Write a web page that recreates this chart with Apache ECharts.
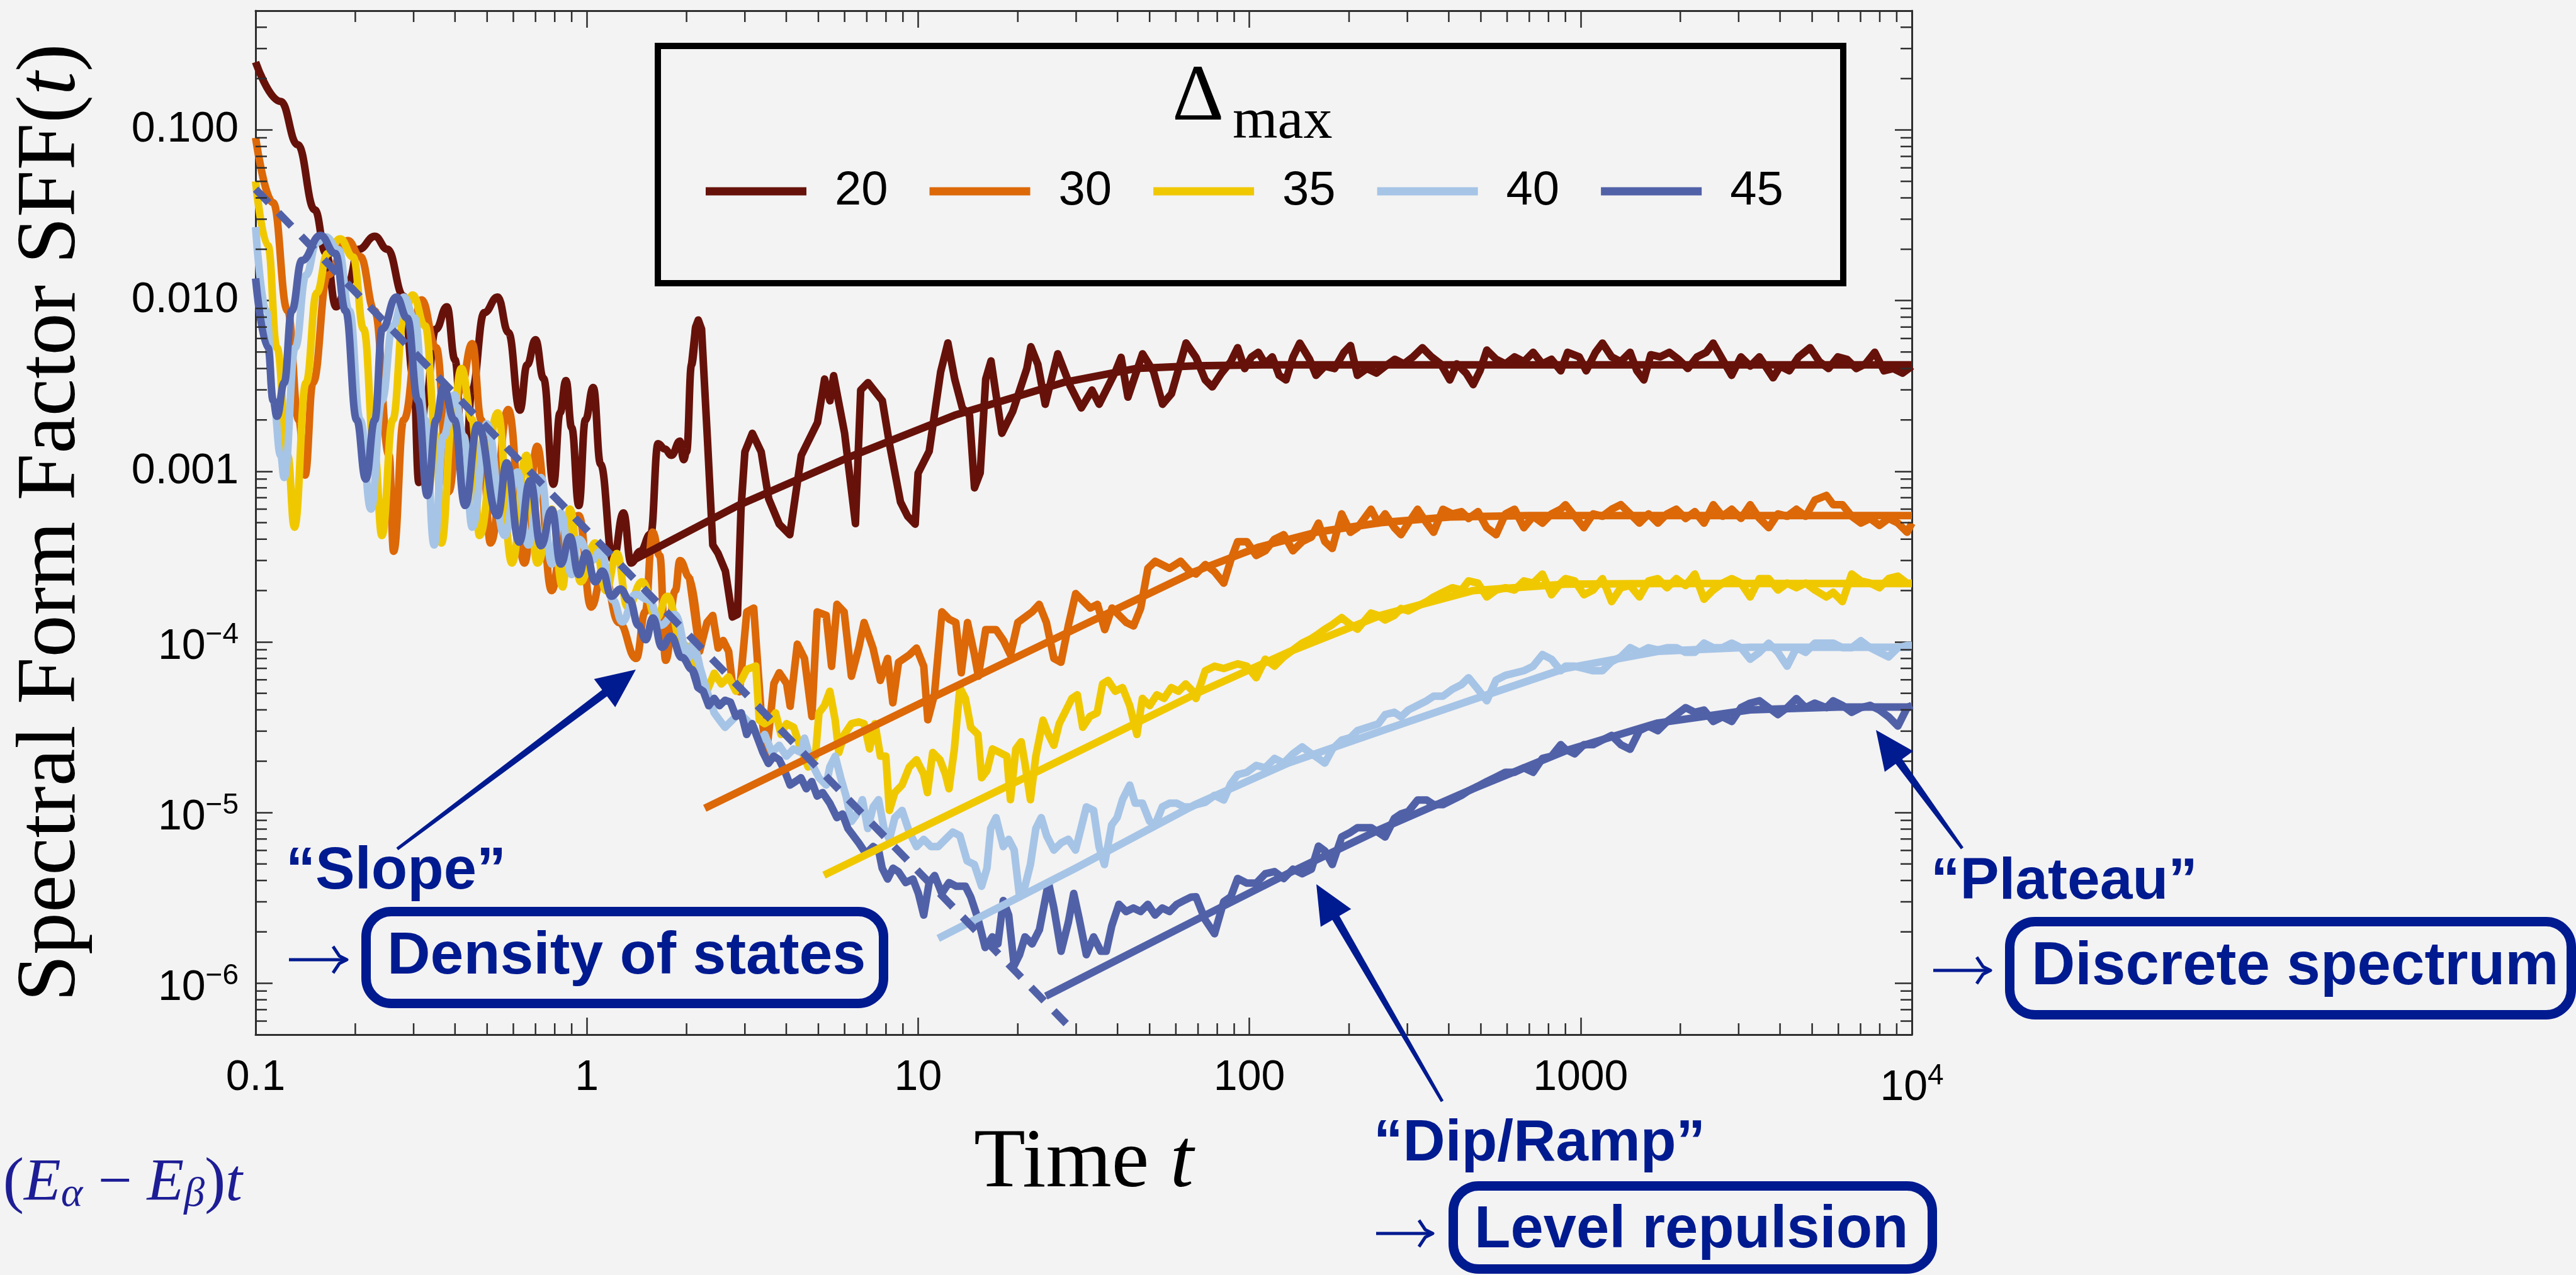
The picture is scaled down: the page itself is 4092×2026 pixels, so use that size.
<!DOCTYPE html>
<html>
<head>
<meta charset="utf-8">
<title>Spectral Form Factor</title>
<script src="https://cdn.jsdelivr.net/npm/echarts@6/dist/echarts.min.js"></script>
<style>
  html, body { margin: 0; padding: 0; background: #f3f3f3; }
  #chart { width: 4092px; height: 2026px; }
</style>
</head>
<body>
<div id="chart"></div>
<script>
// ---------- data: SFF(t) for several cutoffs Δmax (time t, value) ----------
const sff20 = [[0.1,0.25],[0.119,0.147],[0.134,0.082],[0.151,0.034],[0.163,0.019],[0.175,0.0092],[0.19,0.0125],[0.205,0.02],[0.229,0.0238],[0.25,0.02],[0.28,0.0106],[0.3,0.0035],[0.311,8.6e-4],[0.325,0.0025],[0.35,0.0068],[0.378,0.0092],[0.4,0.0045],[0.426,6.8e-4],[0.45,0.003],[0.49,0.0085],[0.538,0.0105],[0.58,0.0065],[0.628,0.00228],[0.66,0.0042],[0.7,0.0059],[0.74,0.0035],[0.793,8.4e-4],[0.83,0.0022],[0.865,0.0034],[0.9,0.0018],[0.946,6.3e-4],[0.99,0.002],[1.046,0.0031],[1.1,0.0011],[1.2,3.0e-4],[1.29,5.7e-4],[1.36,2.9e-4],[1.45,3.4e-4],[1.56,4.3e-4],[1.64,0.00145],[1.72,0.00135],[1.8,0.00124],[1.91,0.0015],[1.96,0.00117],[2.0,0.0013],[2.07,0.0042],[2.13,0.007],[2.17,0.0077],[2.22,0.0068],[2.31,0.0016],[2.4,3.7e-4],[2.49,3.3e-4],[2.62,2.6e-4],[2.75,1.4e-4],[2.85,1.45e-4],[2.92,6.0e-4],[3.0,0.0013],[3.16,0.00167],[3.36,0.0013],[3.54,6.9e-4],[3.81,4.9e-4],[4.1,4.25e-4],[4.44,0.00124],[4.97,0.00193],[5.22,0.00347],[5.42,0.00259],[5.56,0.00363],[6.0,0.00167],[6.47,4.94e-4],[6.71,0.00299],[7.06,0.00331],[7.8,0.00259],[8.2,0.00144],[8.85,6.6e-4],[9.3,5.45e-4],[9.8,4.9e-4],[10.0,9.75e-4],[10.8,0.00131],[11.7,0.00383],[12.3,0.00565],[12.9,0.00347],[13.6,0.00235],[14.3,0.00213],[14.8,8.0e-4],[15.4,9.8e-4],[16.0,0.00347],[16.6,0.00443],[17.9,0.00167],[19.3,0.00224],[21.3,0.00401],[21.9,0.00537],[23.0,0.00422],[24.2,0.00247],[26.4,0.00488],[28.8,0.00315],[31.1,0.00235],[33.5,0.00299],[35.2,0.00247],[39.4,0.00383],[41,0.00465],[43,0.00272],[47.6,0.00488],[51.4,0.00383],[54.7,0.00247],[58.2,0.00285],[64.4,0.00565],[69,0.00465],[73.6,0.00343],[77.3,0.00312],[82.4,0.00376],[87.9,0.00439],[92.2,0.0053],[96.8,0.004],[101.5,0.00468],[106.5,0.00498],[111.7,0.00426],[117.3,0.00468],[123,0.00365],[129,0.00343],[135.5,0.00468],[142,0.00564],[152,0.00453],[159,0.00365],[169,0.00413],[180.9,0.004],[193,0.00498],[202,0.00546],[212,0.00365],[226.4,0.004],[242,0.00376],[257.4,0.00413],[275,0.00453],[292.7,0.00426],[312,0.00468],[333,0.0053],[354.8,0.00468],[378,0.00426],[403,0.00343],[423,0.00426],[451.2,0.00376],[474,0.00322],[497,0.00388],[521,0.00513],[556.2,0.00453],[593,0.00426],[632,0.00468],[674.2,0.00439],[719,0.00498],[766.5,0.00426],[817,0.00453],[871,0.00388],[914,0.00498],[990.8,0.00468],[1040,0.00388],[1108.7,0.00498],[1164,0.00564],[1240.6,0.00468],[1321,0.00439],[1410.6,0.00498],[1479,0.00388],[1552,0.00343],[1629,0.00482],[1737.6,0.00468],[1853,0.00498],[1975.4,0.00453],[2108,0.004],[2245.8,0.00468],[2395,0.00498],[2513,0.00564],[2680.2,0.00453],[2858,0.00365],[3047,0.00468],[3251,0.00413],[3464,0.00468],[3812,0.00353],[4002,0.00413],[4266,0.00388],[4550,0.00468],[4929,0.0053],[5257,0.00439],[5606,0.004],[5976,0.00468],[6373,0.00453],[6795,0.004],[7248,0.00426],[7726,0.00498],[8241,0.00388],[8783,0.004],[9371,0.00376],[10000,0.00413]];

const sff30 = [[0.1,0.09],[0.113,0.0375],[0.125,0.0087],[0.135,0.002],[0.141,9.5e-4],[0.149,0.0033],[0.165,0.0141],[0.19,0.0225],[0.207,0.0181],[0.229,0.0087],[0.253,0.00124],[0.261,3.4e-4],[0.28,0.002],[0.317,0.0101],[0.351,0.0053],[0.383,7.6e-4],[0.415,0.003],[0.451,0.0056],[0.48,0.002],[0.512,3.8e-4],[0.579,0.0023],[0.648,2.9e-4],[0.708,0.0014],[0.783,2.0e-4],[0.85,4.5e-4],[0.946,5.5e-4],[1.03,1.6e-4],[1.12,2.6e-4],[1.25,1.3e-4],[1.41,8.0e-5],[1.5,1.5e-4],[1.58,4.4e-4],[1.66,3.2e-4],[1.73,7.8e-5],[1.85,2.0e-4],[1.91,3.0e-4],[2.04,2.4e-4],[2.19,8.8e-5],[2.305,1.3e-4],[2.4,1.43e-4],[2.49,9.2e-5],[2.58,1.02e-4],[2.68,8.8e-5],[2.75,5.7e-5],[2.89,5.1e-5],[3.04,1.5e-4],[3.19,1.58e-4],[3.36,3.8e-5],[3.49,2.24e-5],[3.67,5.7e-5],[3.81,6.6e-5],[4.01,5.7e-5],[4.11,4.2e-5],[4.32,9.7e-5],[4.54,8.0e-5],[4.78,3.66e-5],[4.96,1.5e-4],[5.28,1.43e-4],[5.48,7.2e-5],[5.69,1.66e-4],[5.98,1.5e-4],[6.29,6.3e-5],[6.62,9.2e-5],[6.87,1.3e-4],[7.31,9.2e-5],[7.69,5.95e-5],[8.09,8.0e-5],[8.39,4.4e-5],[8.73,7.6e-5],[9.41,8.4e-5],[9.89,9.2e-5],[10.4,7.2e-5],[10.7,3.5e-5],[11.2,4.9e-5],[11.8,1.5e-4],[12.4,1.36e-4],[13.0,1.3e-4],[13.5,6.6e-5],[14.1,1.3e-4],[14.8,8.4e-5],[15.2,6.3e-5],[16.0,1.18e-4],[17.2,1.18e-4],[18.1,1.02e-4],[19.0,8.4e-5],[20.0,1.3e-4],[22.1,1.5e-4],[23.2,1.66e-4],[24.4,1.3e-4],[25.7,8.0e-5],[27.0,7.6e-5],[28.4,1.24e-4],[29.9,1.92e-4],[33.1,1.58e-4],[34.8,1.66e-4],[36.6,1.18e-4],[38.5,1.58e-4],[42.5,1.3e-4],[44.7,1.24e-4],[47.0,1.58e-4],[49.4,2.7e-4],[52.0,2.97e-4],[57.4,2.7e-4],[62.0,2.97e-4],[66.0,2.6e-4],[69.0,2.5e-4],[73.6,2.84e-4],[78.5,2.58e-4],[83.7,2.21e-4],[87.9,3.02e-4],[92.2,3.87e-4],[98.3,3.87e-4],[104.9,3.21e-4],[111.7,3.42e-4],[119.1,4.0e-4],[127,4.25e-4],[135.4,3.42e-4],[144.4,3.87e-4],[154,4.12e-4],[161.7,4.97e-4],[169,3.87e-4],[178,3.53e-4],[190,5.63e-4],[202,4.39e-4],[212,4.67e-4],[233,5.99e-4],[245,4.97e-4],[257,5.63e-4],[274,4.67e-4],[287,4.25e-4],[302,4.97e-4],[322,5.99e-4],[343,4.97e-4],[360,4.39e-4],[384,5.99e-4],[410,5.63e-4],[437,5.8e-4],[459,5.29e-4],[490,5.8e-4],[521,4.67e-4],[556,4.25e-4],[593,5.63e-4],[632,5.99e-4],[674,4.67e-4],[719,5.45e-4],[767,4.97e-4],[817,5.63e-4],[871,5.99e-4],[900,6.37e-4],[960,5.45e-4],[1023,4.67e-4],[1091,5.63e-4],[1164,5.45e-4],[1241,5.99e-4],[1323,6.37e-4],[1411,5.63e-4],[1505,4.97e-4],[1604,5.63e-4],[1711,4.97e-4],[1824,5.63e-4],[1945,5.99e-4],[2074,5.29e-4],[2212,5.8e-4],[2358,4.97e-4],[2515,6.37e-4],[2682,5.45e-4],[2860,5.99e-4],[3049,5.29e-4],[3251,6.37e-4],[3467,5.29e-4],[3697,4.67e-4],[3942,5.63e-4],[4204,5.45e-4],[4483,5.99e-4],[4780,5.45e-4],[5097,6.78e-4],[5521,7.22e-4],[5789,6.37e-4],[6172,6.37e-4],[6582,5.45e-4],[7019,4.97e-4],[7484,5.29e-4],[7981,4.82e-4],[8511,5.29e-4],[9075,4.97e-4],[9677,4.39e-4],[10000,4.97e-4]];

const sff35 = [[0.1,0.05],[0.109,0.021],[0.116,0.0053],[0.125,0.00124],[0.131,4.7e-4],[0.142,0.0033],[0.153,0.0111],[0.165,0.0189],[0.18,0.023],[0.197,0.018],[0.212,0.0068],[0.229,0.00124],[0.2406,4.2e-4],[0.2595,0.002],[0.28,0.0079],[0.298,0.0108],[0.325,0.0071],[0.351,0.0016],[0.364,3.8e-4],[0.393,0.002],[0.418,0.004],[0.451,0.002],[0.474,4.2e-4],[0.538,0.0022],[0.594,2.9e-4],[0.657,0.00124],[0.709,2.9e-4],[0.784,6.0e-4],[0.845,2.1e-4],[0.889,6.0e-4],[0.958,2.25e-4],[1.06,3.8e-4],[1.142,2.0e-4],[1.232,3.3e-4],[1.328,1.6e-4],[1.469,2.25e-4],[1.623,1.38e-4],[1.751,1.85e-4],[1.936,9.8e-5],[2.19,6.56e-5],[2.305,5.14e-5],[2.424,6.56e-5],[2.549,5.67e-5],[2.68,6.25e-5],[2.818,5.14e-5],[3.038,6.89e-5],[3.236,7.23e-5],[3.317,3.48e-5],[3.444,3.32e-5],[3.577,3.48e-5],[3.714,3.84e-5],[3.857,2.87e-5],[4.005,3.32e-5],[4.211,3.16e-5],[4.429,2.36e-5],[4.657,1.85e-5],[4.897,2.14e-5],[5.021,3.84e-5],[5.214,4.23e-5],[5.414,5.14e-5],[5.62,3.48e-5],[5.764,2.25e-5],[5.986,2.87e-5],[6.295,3.32e-5],[6.619,3.4e-5],[6.873,3.32e-5],[7.137,2.36e-5],[7.411,3.32e-5],[7.695,2.14e-5],[7.99,2.14e-5],[8.192,1.03e-5],[8.507,1.31e-5],[8.946,1.45e-5],[9.408,1.85e-5],[9.89,2.04e-5],[10.4,1.68e-5],[10.67,1.31e-5],[11.07,2.25e-5],[11.64,2.04e-5],[12.09,1.68e-5],[12.4,1.38e-5],[12.87,2.36e-5],[13.37,5.4e-5],[13.89,4.67e-5],[14.42,3.16e-5],[15.16,2.87e-5],[15.55,1.6e-5],[16.14,1.76e-5],[16.76,2.36e-5],[17.63,2.25e-5],[18.53,2.14e-5],[19.0,1.19e-5],[19.73,2.36e-5],[20.48,2.6e-5],[21.02,1.94e-5],[21.83,1.19e-5],[22.67,2.14e-5],[23.83,3.48e-5],[24.75,2.87e-5],[25.7,2.48e-5],[26.68,3.32e-5],[27.71,3.84e-5],[29.13,4.67e-5],[30.25,4.9e-5],[31.41,3.16e-5],[33.02,3.66e-5],[34.72,3.84e-5],[36.05,5.67e-5],[37.44,5.95e-5],[39.37,5.14e-5],[41.41,5.4e-5],[43.55,4.23e-5],[45.78,2.87e-5],[47.55,4.67e-5],[50.0,4.23e-5],[52.57,4.9e-5],[55.27,4.67e-5],[58.12,5.4e-5],[61.1,5.14e-5],[64.26,5.67e-5],[67.56,5.14e-5],[69.0,4.66e-5],[73.6,6.78e-5],[78.5,7.21e-5],[83.7,6.99e-5],[87.9,7.21e-5],[92.2,7.44e-5],[98.3,7.21e-5],[104.9,6.17e-5],[111.7,7.92e-5],[119.1,7.21e-5],[127,8.17e-5],[135.4,8.97e-5],[144.4,9.84e-5],[154,1.048e-4],[161.7,1.115e-4],[169,1.187e-4],[178,1.263e-4],[190,1.387e-4],[202,1.263e-4],[212,1.187e-4],[233,1.476e-4],[245,1.43e-4],[257,1.344e-4],[274,1.43e-4],[287,1.57e-4],[302,1.52e-4],[322,1.62e-4],[343,1.724e-4],[360,1.835e-4],[384,1.953e-4],[410,2.078e-4],[437,2.014e-4],[459,2.28e-4],[490,2.21e-4],[521,1.835e-4],[556,2.014e-4],[593,2.078e-4],[632,2.014e-4],[674,2.28e-4],[719,2.21e-4],[767,2.5e-4],[817,1.89e-4],[871,2.21e-4],[900,2.35e-4],[960,2.28e-4],[1023,1.89e-4],[1091,2.014e-4],[1164,2.35e-4],[1241,1.724e-4],[1323,2.078e-4],[1411,2.14e-4],[1505,1.835e-4],[1604,2.28e-4],[1711,2.35e-4],[1824,2.078e-4],[1945,2.35e-4],[2074,2.14e-4],[2212,2.5e-4],[2358,1.78e-4],[2515,2.014e-4],[2682,2.21e-4],[2860,2.35e-4],[3049,2.21e-4],[3251,1.835e-4],[3467,2.35e-4],[3697,2.35e-4],[3942,2.014e-4],[4204,2.21e-4],[4483,2.078e-4],[4780,2.21e-4],[5097,2.014e-4],[5521,1.835e-4],[5789,1.953e-4],[6172,1.724e-4],[6582,2.5e-4],[7019,2.28e-4],[7484,2.21e-4],[7981,2.078e-4],[8511,2.35e-4],[9075,2.43e-4],[9677,2.21e-4],[10000,2.21e-4]];

const sff40 = [[0.1,0.027],[0.1077,0.0087],[0.1132,0.0026],[0.119,0.00124],[0.122,9.2e-4],[0.1317,0.0053],[0.142,0.0141],[0.153,0.0219],[0.163,0.0236],[0.178,0.0199],[0.192,0.0087],[0.207,0.002],[0.223,6.0e-4],[0.2406,0.0026],[0.2595,0.0071],[0.28,0.0105],[0.302,0.0079],[0.325,0.002],[0.346,3.7e-4],[0.369,0.0016],[0.398,0.0028],[0.425,0.0016],[0.451,4.7e-4],[0.4985,0.0019],[0.565,4.2e-4],[0.617,9.9e-4],[0.666,3.7e-4],[0.727,9.2e-4],[0.784,2.86e-4],[0.834,5.7e-4],[0.9,2.48e-4],[0.946,4.0e-4],[1.033,3.0e-4],[1.1,3.4e-4],[1.2,1.76e-4],[1.279,1.31e-4],[1.4,1.9e-4],[1.544,1.76e-4],[1.665,1.25e-4],[1.841,1.45e-4],[2.035,8.1e-5],[2.084,9.69e-5],[2.19,7.23e-5],[2.305,5.14e-5],[2.424,3.84e-5],[2.516,3.48e-5],[2.613,3.16e-5],[2.748,3.48e-5],[2.888,3.84e-5],[3.038,3.48e-5],[3.194,3.16e-5],[3.317,2.6e-5],[3.444,2.87e-5],[3.622,2.25e-5],[3.808,2.48e-5],[4.005,2.14e-5],[4.211,2.36e-5],[4.429,2.25e-5],[4.541,2.73e-5],[4.775,1.94e-5],[5.021,1.6e-5],[5.28,1.45e-5],[5.414,1.85e-5],[5.62,2.14e-5],[5.84,1.6e-5],[6.06,1.25e-5],[6.295,8.89e-6],[6.537,9.81e-6],[6.79,1.19e-5],[7.047,8.07e-6],[7.318,1.08e-5],[7.598,1.19e-5],[7.889,8.07e-6],[8.192,6.97e-6],[8.507,9.34e-6],[8.946,1.03e-5],[9.408,7.69e-6],[9.89,6.32e-6],[10.4,6.97e-6],[10.94,6.32e-6],[11.5,6.32e-6],[12.09,6.97e-6],[12.72,7.69e-6],[13.37,7.32e-6],[14.06,5.2e-6],[14.79,4.96e-6],[15.55,3.7e-6],[16.14,4.72e-6],[16.56,8.07e-6],[17.19,9.34e-6],[18.08,6.32e-6],[18.77,6.97e-6],[19.5,6.03e-6],[20.25,3.2e-6],[21.02,3.7e-6],[21.83,4.96e-6],[22.67,8.07e-6],[23.54,9.34e-6],[24.44,7.32e-6],[25.7,6.03e-6],[27.02,6.64e-6],[28.41,6.97e-6],[29.87,6.03e-6],[31.02,8.07e-6],[32.21,1.08e-5],[33.87,1.03e-5],[35.17,6.32e-6],[36.52,4.96e-6],[38.41,8.47e-6],[39.88,9.34e-6],[41.41,1.19e-5],[43.55,1.45e-5],[45.22,1.135e-5],[47.55,1.135e-5],[50.0,8.89e-6],[51.92,8.47e-6],[54.6,1.08e-5],[57.4,1.135e-5],[60.36,1.135e-5],[63.47,1.08e-5],[66.75,1.08e-5],[69.0,1.113e-5],[73.6,1.149e-5],[78.5,1.261e-5],[83.7,1.185e-5],[87.9,1.474e-5],[92.2,1.669e-5],[98.3,1.722e-5],[104.9,1.89e-5],[111.7,1.83e-5],[119.1,2.076e-5],[127,1.95e-5],[135.4,2.21e-5],[144.4,2.425e-5],[154,2.21e-5],[161.7,2.076e-5],[169,1.95e-5],[178,2.35e-5],[190,2.66e-5],[202,2.75e-5],[212,3.02e-5],[233,3.21e-5],[245,3.31e-5],[257,3.75e-5],[274,3.87e-5],[287,3.64e-5],[302,3.99e-5],[322,4.25e-5],[343,4.52e-5],[360,4.81e-5],[384,4.81e-5],[410,5.28e-5],[437,5.62e-5],[459,6.17e-5],[490,5.28e-5],[521,4.52e-5],[556,5.98e-5],[593,6.37e-5],[632,6.57e-5],[674,6.78e-5],[719,7.21e-5],[767,8.43e-5],[817,7.92e-5],[871,6.78e-5],[900,7.21e-5],[960,7.21e-5],[1023,6.99e-5],[1091,6.78e-5],[1164,6.78e-5],[1241,7.67e-5],[1323,8.17e-5],[1411,9.25e-5],[1505,8.69e-5],[1604,9.25e-5],[1711,8.97e-5],[1824,9.25e-5],[1945,9.25e-5],[2074,8.69e-5],[2212,8.69e-5],[2358,9.84e-5],[2515,9.25e-5],[2682,9.25e-5],[2860,9.84e-5],[3049,9.25e-5],[3251,7.92e-5],[3467,8.69e-5],[3697,9.84e-5],[3942,8.69e-5],[4204,7.21e-5],[4483,9.25e-5],[4780,8.69e-5],[5097,9.84e-5],[5521,9.84e-5],[5789,9.84e-5],[6172,9.25e-5],[6582,9.25e-5],[7019,1.016e-4],[7484,9.25e-5],[7981,8.69e-5],[8511,8.17e-5],[9075,9.25e-5],[9677,9.54e-5],[10000,9.54e-5]];

const sff45 = [[0.1,0.0135],[0.109,0.0053],[0.113,0.0026],[0.116,0.0021],[0.122,0.0033],[0.1285,0.0087],[0.138,0.0172],[0.157,0.0241],[0.174,0.0189],[0.187,0.0087],[0.202,0.002],[0.215,9.0e-4],[0.229,0.002],[0.241,0.0068],[0.266,0.0105],[0.287,0.0079],[0.309,0.0026],[0.33,7.2e-4],[0.351,0.002],[0.369,0.0031],[0.398,0.002],[0.429,6.3e-4],[0.468,0.00187],[0.538,5.5e-4],[0.573,0.00112],[0.625,3.84e-4],[0.674,8.8e-4],[0.727,3.66e-4],[0.784,5.95e-4],[0.834,2.86e-4],[0.889,4.13e-4],[0.946,2.48e-4],[0.995,3.32e-4],[1.06,2.25e-4],[1.114,2.6e-4],[1.186,1.85e-4],[1.263,2.04e-4],[1.345,1.76e-4],[1.432,1.25e-4],[1.506,1.03e-4],[1.583,1.38e-4],[1.686,9.3e-5],[1.795,1.08e-4],[1.936,8.1e-5],[2.084,6.89e-5],[2.164,5.4e-5],[2.247,5.14e-5],[2.333,4.23e-5],[2.424,4.67e-5],[2.516,4.23e-5],[2.613,4.55e-5],[2.713,4.44e-5],[2.818,3.66e-5],[2.925,3.84e-5],[3.038,2.87e-5],[3.155,3.32e-5],[3.276,2.73e-5],[3.401,2.25e-5],[3.532,1.94e-5],[3.667,2.14e-5],[3.808,2.04e-5],[3.954,1.76e-5],[4.107,1.45e-5],[4.264,1.52e-5],[4.429,1.6e-5],[4.598,1.38e-5],[4.775,1.52e-5],[4.959,1.25e-5],[5.149,1.31e-5],[5.414,1.135e-5],[5.69,9.34e-6],[5.911,9.81e-6],[6.138,8.07e-6],[6.374,7.32e-6],[6.619,6.64e-6],[6.96,5.74e-6],[7.318,6.32e-6],[7.598,6.03e-6],[7.792,4.72e-6],[8.091,4.08e-6],[8.4,4.72e-6],[8.727,4.5e-6],[9.175,3.89e-6],[9.647,4.08e-6],[10.02,3.36e-6],[10.4,2.51e-6],[10.8,3.89e-6],[11.22,4.28e-6],[11.79,3.36e-6],[12.4,3.89e-6],[13.04,3.7e-6],[13.89,3.7e-6],[14.42,3.2e-6],[15.16,2.39e-6],[15.94,1.62e-6],[16.76,1.87e-6],[17.41,1.7e-6],[18.08,3.05e-6],[18.77,2.51e-6],[19.5,1.27e-6],[20.25,1.47e-6],[21.02,1.87e-6],[22.1,1.7e-6],[23.24,2.06e-6],[24.75,3.89e-6],[25.7,2.76e-6],[27.02,1.54e-6],[28.41,2.27e-6],[29.5,3.36e-6],[30.64,2.39e-6],[32.21,1.47e-6],[33.87,1.87e-6],[35.62,1.54e-6],[36.99,1.54e-6],[38.41,2.16e-6],[40.39,2.9e-6],[42.46,2.63e-6],[44.66,2.76e-6],[46.95,2.63e-6],[49.37,2.9e-6],[51.92,2.51e-6],[54.6,2.76e-6],[57.4,2.63e-6],[60.36,2.9e-6],[63.47,3.05e-6],[66.75,3.2e-6],[69.0,3.21e-6],[73.6,2.35e-6],[78.5,1.95e-6],[83.7,3.01e-6],[87.9,3.21e-6],[92.2,4.11e-6],[98.3,3.86e-6],[104.9,3.86e-6],[111.7,4.38e-6],[119.1,4.51e-6],[127,4.11e-6],[135.4,4.66e-6],[144.4,4.38e-6],[154,4.66e-6],[161.7,6.36e-6],[169,5.97e-6],[178,4.96e-6],[190,7.2e-6],[202,7.66e-6],[212,8.16e-6],[233,8.16e-6],[245,7.66e-6],[257,7.2e-6],[274,9.24e-6],[287,9.83e-6],[302,1.014e-5],[322,1.185e-5],[343,1.185e-5],[360,1.113e-5],[384,1.113e-5],[410,1.185e-5],[437,1.261e-5],[459,1.342e-5],[490,1.428e-5],[521,1.52e-5],[556,1.618e-5],[593,1.722e-5],[632,1.722e-5],[674,1.83e-5],[719,1.722e-5],[767,2.076e-5],[817,2.14e-5],[871,2.5e-5],[900,2.35e-5],[960,2.21e-5],[1023,2.5e-5],[1091,2.5e-5],[1164,2.66e-5],[1241,2.83e-5],[1323,2.5e-5],[1411,2.35e-5],[1505,3.02e-5],[1604,3.21e-5],[1711,3.02e-5],[1824,3.42e-5],[1945,3.75e-5],[2074,4.12e-5],[2212,3.87e-5],[2358,3.99e-5],[2515,3.42e-5],[2682,3.64e-5],[2860,3.42e-5],[3049,4.12e-5],[3251,4.38e-5],[3467,4.52e-5],[3697,4.12e-5],[3942,3.75e-5],[4204,4.12e-5],[4483,4.66e-5],[4780,4.12e-5],[5097,4.38e-5],[5521,4.12e-5],[5789,4.52e-5],[6172,4.25e-5],[6582,3.87e-5],[7019,4.12e-5],[7484,4.25e-5],[7981,3.99e-5],[8511,3.64e-5],[9075,3.21e-5],[9677,4.12e-5],[10000,4.25e-5]];

// ramp-to-plateau curves for each cutoff
const fit20 = [[1.33,2.9e-4],[2.86,6.3e-4],[6.06,0.00119],[12.9,0.00213],[27.4,0.00331],[45.4,0.004],[69,0.00415],[110,0.0042],[10000,0.0042]];
const fit30 = [[2.27,1.06e-5],[10,4.3e-5],[30,1.2e-4],[69,2.6e-4],[107,3.6e-4],[160,4.4e-4],[249,5.0e-4],[403,5.4e-4],[700,5.5e-4],[10000,5.5e-4]];
const fit35 = [[5.2,4.3e-6],[20,1.53e-5],[69,4.97e-5],[131,8.7e-5],[249,1.43e-4],[474,2.0e-4],[900,2.18e-4],[1700,2.2e-4],[10000,2.2e-4]];
const fit40 = [[11.5,1.83e-6],[30,4.74e-6],[69,1.12e-5],[131,1.95e-5],[249,3.0e-5],[474,4.6e-5],[900,7.0e-5],[1711,8.8e-5],[3251,9.3e-5],[10000,9.3e-5]];
const fit45 = [[24.3,8.4e-7],[69,2.35e-6],[131,4.4e-6],[249,8.0e-6],[474,1.38e-5],[900,2.3e-5],[1711,3.35e-5],[3251,4.0e-5],[6000,4.15e-5],[10000,4.15e-5]];

// early-time power-law decay guide (dashed)
const slopeGuide = [[0.1,0.045],[28,5.8e-7]];

// legend entries (Δmax values)
const cutoffs = ['20','30','35','40','45'];

// tick labels keyed by decade exponent
const xTickLabels = {'-1':'0.1','0':'1','1':'10','2':'100','3':'1000','4':'{b|10}{s|4}'};
const yTickLabels = {'-6':'{b|10}{s|−6}','-5':'{b|10}{s|−5}','-4':'{b|10}{s|−4}','-3':'0.001','-2':'0.010','-1':'0.100'};

// minor tick positions
const xMinorTicks = [0.2,0.3,0.4,0.5,0.6,0.7,0.8,0.9,2,3,4,5,6,7,8,9,20,30,40,50,60,70,80,90,200,300,400,500,600,700,800,900,2000,3000,4000,5000,6000,7000,8000,9000];
const yMinorTicks = [6e-7,7e-7,8e-7,9e-7,2e-6,3e-6,4e-6,5e-6,6e-6,7e-6,8e-6,9e-6,2e-5,3e-5,4e-5,5e-5,6e-5,7e-5,8e-5,9e-5,2e-4,3e-4,4e-4,5e-4,6e-4,7e-4,8e-4,9e-4,0.002,0.003,0.004,0.005,0.006,0.007,0.008,0.009,0.02,0.03,0.04,0.05,0.06,0.07,0.08,0.09,0.2,0.3,0.4];

// ---------- styling ----------
const COLORS = {'20':'#66120a','30':'#dc6808','35':'#f0c800','40':'#a6c4e6','45':'#5161a8'};
const NOTE_BLUE = '#001a90';
const AXIS_COLOR = '#2e2e2e';
const SANS = "'Liberation Sans', Arial, Helvetica, sans-serif";
const SERIF = "'Liberation Serif', 'Times New Roman', serif";
const LINE_W = 12;
const X_MIN = 0.1, X_MAX = 10000, Y_MIN = 5e-7, Y_MAX = 0.5;
const OSC_END = 2.1;   // oscillating early part is drawn as a smooth curve

function decadeLabel(table, v) {
  const e = Math.log10(v);
  const r = Math.round(e);
  if (Math.abs(e - r) > 1e-6) return '';
  return table[String(r)] || '';
}

const tickRich = {
  b: { fontFamily: SANS, fontSize: 68, color: '#000', padding: [16, 0, 0, 0] },
  s: { fontFamily: SANS, fontSize: 46, color: '#000', verticalAlign: 'top', padding: [8, 0, 0, 0] }
};

function frameAxis(extra) {
  return Object.assign({
    type: 'log', logBase: 10,
    axisLine: { show: true, lineStyle: { color: AXIS_COLOR, width: 3 } },
    axisTick: { show: true, inside: true, length: 27, lineStyle: { color: AXIS_COLOR, width: 2.5 } },
    splitLine: { show: false },
    minorTick: { show: false },
    minorSplitLine: { show: false }
  }, extra);
}

const series = [];
[sff20, sff30, sff35, sff40, sff45].forEach((data, i) => {
  const k = cutoffs[i];
  const cut = data.findIndex(p => p[0] > OSC_END);
  const early = data.slice(0, cut + 1);
  const late = data.slice(cut - 1);
  const base = {
    type: 'line', name: k, showSymbol: false, symbol: 'none', silent: true, z: 2,
    lineStyle: { color: COLORS[k], width: LINE_W, join: 'round' },
    itemStyle: { color: COLORS[k] }
  };
  series.push(Object.assign({}, base, { data: early, smooth: 0.45, smoothMonotone: 'x' }));
  series.push(Object.assign({}, base, { data: late }));
});
[fit20, fit30, fit35, fit40, fit45].forEach((data, i) => {
  const k = cutoffs[i];
  series.push({
    type: 'line', name: 'fit ' + k, data: data,
    showSymbol: false, symbol: 'none', silent: true, z: 3,
    lineStyle: { color: COLORS[k], width: LINE_W, join: 'round' }
  });
});
series.push({
  type: 'line', name: 'slope', data: slopeGuide,
  showSymbol: false, symbol: 'none', silent: true, z: 4,
  lineStyle: { color: COLORS['45'], width: LINE_W, type: [30, 22], cap: 'butt' }
});
// minor ticks on the four sides of the frame
series.push({
  type: 'custom', name: 'xMinor', silent: true, z: 5, clip: false,
  data: xMinorTicks.map(t => [t, 1e-3]),
  renderItem: function (params, api) {
    const cs = params.coordSys;
    const x = api.coord([api.value(0), 1e-3])[0];
    const yb = cs.y + cs.height, yt = cs.y;
    const st = { stroke: AXIS_COLOR, lineWidth: 2.5 };
    return { type: 'group', children: [
      { type: 'line', shape: { x1: x, y1: yb, x2: x, y2: yb - 18 }, style: st },
      { type: 'line', shape: { x1: x, y1: yt, x2: x, y2: yt + 18 }, style: st }
    ] };
  }
});
series.push({
  type: 'custom', name: 'yMinor', silent: true, z: 5, clip: false,
  data: yMinorTicks.map(v => [1, v]),
  renderItem: function (params, api) {
    const cs = params.coordSys;
    const y = api.coord([1, api.value(1)])[1];
    const xl = cs.x, xr = cs.x + cs.width;
    const st = { stroke: AXIS_COLOR, lineWidth: 2.5 };
    return { type: 'group', children: [
      { type: 'line', shape: { x1: xl, y1: y, x2: xl + 18, y2: y }, style: st },
      { type: 'line', shape: { x1: xr, y1: y, x2: xr - 18, y2: y }, style: st }
    ] };
  }
});

// ---------- annotations ----------
function bigArrow(tail, tip) {
  const dx = tip[0] - tail[0], dy = tip[1] - tail[1];
  const len = Math.hypot(dx, dy);
  const ux = dx / len, uy = dy / len, nx = -uy, ny = ux;
  const L = 62, W = 28;
  const bx = tip[0] - ux * L, by = tip[1] - uy * L;
  return [
    { type: 'polygon', z: 60, shape: { points: [
        [tail[0] + nx * 2.5, tail[1] + ny * 2.5], [bx + ux * 4 + nx * 6.5, by + uy * 4 + ny * 6.5],
        [bx + ux * 4 - nx * 6.5, by + uy * 4 - ny * 6.5], [tail[0] - nx * 2.5, tail[1] - ny * 2.5]] },
      style: { fill: NOTE_BLUE } },
    { type: 'polygon', z: 60, shape: { points: [tip, [bx + nx * W, by + ny * W], [bx - nx * W, by - ny * W]] },
      style: { fill: NOTE_BLUE } }
  ];
}
function toArrow(x0, x1, yc) {
  return [
    { type: 'line', z: 60, shape: { x1: x0, y1: yc, x2: x1 - 3, y2: yc }, style: { stroke: NOTE_BLUE, lineWidth: 5 } },
    { type: 'polyline', z: 60, shape: { points: [[x1 - 22, yc - 21], [x1 - 12, yc - 6], [x1, yc], [x1 - 12, yc + 6], [x1 - 22, yc + 21]] },
      style: { stroke: NOTE_BLUE, lineWidth: 5, fill: null, lineJoin: 'round' } }
  ];
}
function noteText(text, x, y, size) {
  return { type: 'text', z: 60, style: { text: text, x: x, y: y, align: 'left', verticalAlign: 'middle',
    fill: NOTE_BLUE, fontFamily: SANS, fontWeight: 'bold', fontSize: size } };
}
function noteBox(x0, y0, x1, y1) {
  const lw = 15;
  return { type: 'rect', z: 60, shape: { x: x0 + lw / 2, y: y0 + lw / 2, width: x1 - x0 - lw, height: y1 - y0 - lw, r: 40 },
    style: { fill: 'none', stroke: NOTE_BLUE, lineWidth: lw } };
}

const MATH_BLUE = '#1d1d96';
const graphics = [
  // legend frame and heading
  { type: 'rect', z: 40, shape: { x: 1045, y: 73, width: 1883, height: 377 }, style: { fill: 'none', stroke: '#000', lineWidth: 10 } },
  { type: 'text', z: 41, style: { text: 'Δ', x: 1862, y: 156, align: 'left', verticalAlign: 'middle', fill: '#000', fontFamily: SERIF, fontSize: 128 } },
  { type: 'text', z: 41, style: { text: 'max', x: 1958, y: 195, align: 'left', verticalAlign: 'middle', fill: '#000', fontFamily: SERIF, fontSize: 92 } },

  ...bigArrow([631, 1349], [1010, 1064]),
  noteText('“Slope”', 454, 1386, 94),
  ...toArrow(459, 551, 1525),
  noteBox(574, 1441, 1411, 1602),
  noteText('Density of states', 615, 1521, 95),

  ...bigArrow([2291, 1750], [2091, 1405]),
  noteText('“Dip/Ramp”', 2182, 1818, 93),
  ...toArrow(2186, 2276, 1960),
  noteBox(2301, 1877, 3077, 2024),
  noteText('Level repulsion', 2342, 1956, 94),

  ...bigArrow([3117, 1348], [2980, 1160]),
  noteText('“Plateau”', 3067, 1402, 93),
  ...toArrow(3071, 3162, 1542),
  noteBox(3185, 1457, 4092, 1620),
  noteText('Discrete spectrum', 3227, 1538, 96),

  { type: 'text', z: 60, style: {
      text: '{p|(}{e|E}{sb|α}{o| − }{e|E}{sb|β}{p|)}{e|t}', x: 385, y: 1882, align: 'right', verticalAlign: 'middle',
      fill: MATH_BLUE, fontFamily: SERIF, fontSize: 96,
      rich: {
        p: { fontFamily: SERIF, fontSize: 100, fill: MATH_BLUE },
        e: { fontFamily: SERIF, fontStyle: 'italic', fontSize: 96, fill: MATH_BLUE },
        sb: { fontFamily: SERIF, fontStyle: 'italic', fontSize: 66, fill: MATH_BLUE, verticalAlign: 'bottom' },
        o: { fontFamily: SERIF, fontSize: 96, fill: MATH_BLUE }
      } } }
];

// ---------- chart ----------
const chart = echarts.init(document.getElementById('chart'), null, { renderer: 'canvas' });
chart.setOption({
  animation: false,
  backgroundColor: '#f3f3f3',
  grid: { left: 406, right: 1055, top: 17, bottom: 382, containLabel: false, outerBoundsMode: 'none' },
  legend: {
    data: cutoffs, left: 1121, top: 266, padding: 0, orient: 'horizontal',
    icon: 'rect', itemWidth: 160, itemHeight: 13, itemGap: 66, selectedMode: false,
    textStyle: { fontFamily: SANS, fontSize: 76, color: '#000', padding: [0, 0, 0, 40] }
  },
  xAxis: [
    frameAxis({
      min: X_MIN, max: X_MAX, position: 'bottom',
      axisLabel: { show: true, margin: 35, fontFamily: SANS, fontSize: 68, color: '#000',
        showMinLabel: true, showMaxLabel: true,
        formatter: v => decadeLabel(xTickLabels, v), rich: tickRich },
      name: 'Time {i|t}', nameLocation: 'middle', nameGap: 139,
      nameTextStyle: { fontFamily: SERIF, fontSize: 134, color: '#000',
        rich: { i: { fontFamily: SERIF, fontStyle: 'italic', fontSize: 134, color: '#000' } } }
    }),
    frameAxis({ min: X_MIN, max: X_MAX, position: 'top', axisLabel: { show: false } })
  ],
  yAxis: [
    frameAxis({
      min: Y_MIN, max: Y_MAX, position: 'left',
      axisLabel: { show: true, margin: 27, fontFamily: SANS, fontSize: 68, color: '#000',
        showMinLabel: false, showMaxLabel: false,
        formatter: v => decadeLabel(yTickLabels, v), rich: tickRich },
      name: 'Spectral Form Factor SFF({i|t})', nameLocation: 'middle', nameGap: 256, nameRotate: 90,
      nameTextStyle: { fontFamily: SERIF, fontSize: 134, color: '#000',
        rich: { i: { fontFamily: SERIF, fontStyle: 'italic', fontSize: 134, color: '#000' } } }
    }),
    frameAxis({ min: Y_MIN, max: Y_MAX, position: 'right', axisLabel: { show: false } })
  ],
  series: series,
  graphic: { elements: graphics }
});
</script>
</body>
</html>
